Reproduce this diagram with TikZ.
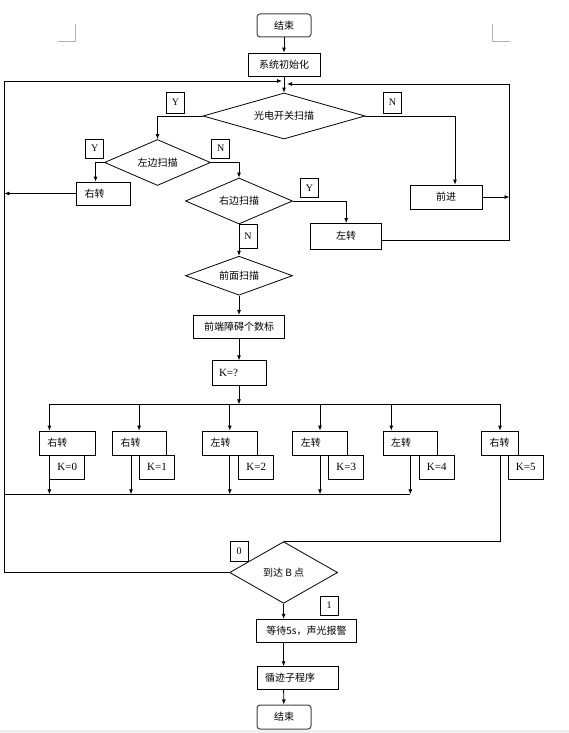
\documentclass[tikz,border=0pt]{standalone}
\usepackage{fontspec}
\setmainfont{Liberation Serif}
\newfontfamily\cjk{Noto Sans CJK SC}
\usetikzlibrary{shapes.geometric,arrows.meta}

\begin{document}
\begin{tikzpicture}[x=1pt, y=-1pt, line width=0.8pt, >={Latex[length=5pt,width=4pt]},
    box/.style={draw, inner sep=0pt, font=\cjk\fontsize{10}{12}\selectfont},
    term/.style={box, rounded corners=3pt, draw=black!75, line width=1pt, minimum width=54pt, minimum height=23pt},
    rowbox/.style={box, minimum height=24pt, inner xsep=8pt, text width=#1, align=left},
    dec/.style={draw, diamond, aspect=2.5, inner sep=0pt, font=\cjk\fontsize{10}{12}\selectfont},
    tag/.style={draw, inner sep=0pt, minimum width=18pt, minimum height=19pt, font=\fontsize{10}{12}\selectfont},
    kbox/.style={draw, inner sep=0pt, minimum width=35pt, minimum height=24.3pt, font=\fontsize{11}{12}\selectfont}]
    \useasboundingbox (0,0) rectangle (569,733);
    \fill[black!6] (0,730) rectangle (569,733);
    % page corner marks
    \draw[black!30, line width=0.6pt] (58,41.7) -- (75.3,41.7) -- (75.3,24);
    \draw[black!30, line width=0.6pt] (492.7,24) -- (492.7,41.7) -- (510,41.7);

    \node[term] (start) at (284,25.5) {结束};
    \node[box, minimum width=72pt, minimum height=23pt] (init) at (284,64.5) {系统初始化};
    \node[dec, minimum width=162pt, minimum height=46pt] (photo) at (284,116) {光电开关扫描};
    \node[tag, minimum height=21pt] (yp) at (175.6,102.5) {Y};
    \node[tag, minimum height=21pt] (np) at (392.5,102.5) {N};
    \node[dec, minimum width=106pt, minimum height=46pt] (lscan) at (157.5,162.5) {左边扫描};
    \node[tag] (yl) at (94.7,148.5) {Y};
    \node[tag] (nl) at (220.7,148.5) {N};
    \node[rowbox=38pt, minimum height=23pt] (rturn) at (103.5,193.5) {右转};
    \node[dec, minimum width=107pt, minimum height=46pt] (rscan) at (239,201) {右边扫描};
    \node[tag] (yr) at (309.5,188) {Y};
    \node[tag, minimum height=24pt] (nr) at (248,236.3) {N};
    \node[box, minimum width=72pt, minimum height=24pt] (fwd) at (446,197) {前进};
    \node[box, minimum width=71pt, minimum height=25.5pt] (lturn) at (346.2,236.2) {左转};
    \node[dec, minimum width=107pt, minimum height=39pt] (fscan) at (239,275.7) {前面扫描};
    \node[box, minimum width=91pt, minimum height=23pt] (count) at (239,326.8) {前端障碍个数标};
    \node[rowbox=40pt, inner xsep=7pt, minimum height=24.6pt, font=\fontsize{11}{12}\selectfont] (kq) at (239,373) {K=?};

    % K cases
    \node[rowbox=40pt] (r0) at (67.3,443) {右转};
    \node[rowbox=38pt] (r1) at (139.6,443) {右转};
    \node[rowbox=38.5pt] (r2) at (229.8,443) {左转};
    \node[rowbox=38.5pt] (r3) at (320,443) {左转};
    \node[rowbox=38.5pt] (r4) at (410.3,443) {左转};
    \node[rowbox=20.6pt] (r5) at (500,443) {右转};
    \node[kbox] (k0) at (67.3,467.2) {K=0};
    \node[kbox] (k1) at (157,467.2) {K=1};
    \node[kbox] (k2) at (256.3,467.2) {K=2};
    \node[kbox] (k3) at (346.3,467.2) {K=3};
    \node[kbox] (k4) at (436.8,467.2) {K=4};
    \node[kbox] (k5) at (525.8,467.2) {K=5};

    \node[dec, minimum width=108pt, minimum height=61.6pt] (arrive) at (283.6,572.5) {到达 B 点};
    \node[tag, minimum height=20pt] (t0) at (239,551.7) {0};
    \node[tag] (t1) at (329,605.5) {1};
    \node[box, minimum width=100pt, minimum height=23.4pt] (wait) at (306.5,631) {等待5s，声光报警};
    \node[rowbox=65pt, minimum height=22.6pt] (track) at (297.5,678) {循迹子程序};
    \node[term, minimum height=24pt] (end) at (284,717) {结束};

    \coordinate (lt) at (4.4,81);
    \coordinate (rt) at (509.5,84);
    \coordinate (bus) at (239,404.3);
    \coordinate (lbus) at (4.4,494.3);

    \draw[->] (start) -- (init);
    \draw[->] (init) -- (photo);
    \draw[->] (arrive.west) -| (lt) -- ([xshift=-2pt]lt -| init.south);
    \draw[->] ([yshift=-4.5pt]lturn.east) -| (rt) -- ([xshift=3pt]rt -| init.south);
    \draw[->] (photo.west) -| (lscan.north);
    \draw[->] (photo.east) -| ([xshift=9pt]fwd.north);
    \draw[->] (fwd.east) -- (fwd.east -| rt);
    \draw[->] (lscan.west) -| ([xshift=-8pt]rturn.north);
    \draw[->] (rturn.west) -- (rturn.west -| lt);
    \draw[->] (lscan.east) -| (rscan.north);
    \draw[->] (rscan.east) -| (lturn.north);
    \draw[->] (rscan.south) -- (fscan.north);
    \draw[->] (fscan.south) -- (count.north);
    \draw[->] (count) -- (kq);
    \draw[->] (kq) -- (bus);

    \draw (k0.west |- bus) -- (r5.north |- bus);
    \draw[->] (k0.west |- bus) -- (k0.west |- r0.north);
    \draw[->] (k1.west |- bus) -- (k1.west |- r1.north);
    \draw[->] (r2.north |- bus) -- (r2.north);
    \draw[->] (r3.north |- bus) -- (r3.north);
    \draw[->] ([xshift=-19pt]r4.north |- bus) -- ([xshift=-19pt]r4.north);
    \draw[->] (r5.north |- bus) -- (r5.north);

    \draw (lbus) -- (r4.south |- lbus);
    \draw[->] (k0.south west) -- (k0.west |- lbus);
    \draw[->] ([xshift=-8.6pt]r1.south) -- ([xshift=-8.6pt]r1.south |- lbus);
    \draw[->] (r2.south) -- (r2.south |- lbus);
    \draw[->] (r3.south) -- (r3.south |- lbus);
    \draw[->] (r4.south) -- (r4.south |- lbus);
    \draw (r5.south) |- (arrive.north);

    \draw[->] (arrive.south) -- (arrive.south |- wait.north);
    \draw[->] (wait.south -| arrive.south) -- (track.north -| arrive.south);
    \draw[->] (track.south -| arrive.south) -- (end);
\end{tikzpicture}
\end{document}
